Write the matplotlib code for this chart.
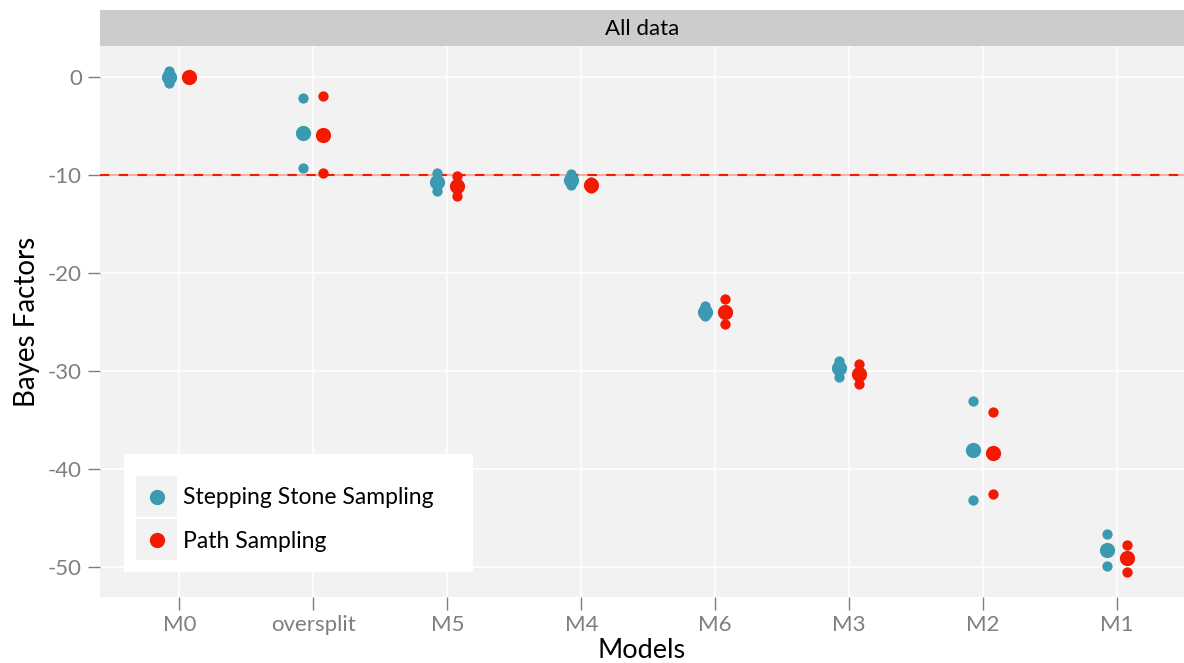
import matplotlib
matplotlib.use("Agg")
import matplotlib.pyplot as plt
from matplotlib.patches import Rectangle
import numpy as np

plt.rcParams['font.family'] = ['Lato', 'DejaVu Sans']

models = ['M0', 'oversplit', 'M5', 'M4', 'M6', 'M3', 'M2', 'M1']

# Stepping Stone Sampling: mean and the two replicate runs
ss_mean = [0.0, -5.75, -10.75, -10.5, -23.95, -29.7, -38.1, -48.3]
ss_rep_hi = [0.6, -2.1, -9.8, -9.9, -23.4, -29.0, -33.05, -46.6]
ss_rep_lo = [-0.6, -9.3, -11.6, -11.0, -24.4, -30.6, -43.2, -49.9]

# Path Sampling
ps_mean = [0.0, -5.9, -11.1, -11.0, -23.95, -30.3, -38.4, -49.1]
ps_rep_hi = [0.1, -1.95, -10.1, -10.7, -22.65, -29.3, -34.2, -47.8]
ps_rep_lo = [-0.1, -9.8, -12.1, -11.3, -25.2, -31.3, -42.6, -50.5]

threshold = -10
yticks = [0, -10, -20, -30, -40, -50]

blue = '#3B9AB2'
red = '#F21A00'
grey_txt = '#7F7F7F'

W, H = 1184, 663
fig = plt.figure(figsize=(W / 100, H / 100), dpi=100)

def fbox(x0, y0, x1, y1):
    # pixel box (top-left origin) -> figure fraction rect
    return [x0 / W, 1 - y1 / H, (x1 - x0) / W, (y1 - y0) / H]

ax = fig.add_axes(fbox(100, 46, 1184, 597))
strip = fig.add_axes(fbox(100, 10, 1184, 46))

ax.set_facecolor('#F2F2F2')
for s in ax.spines.values():
    s.set_visible(False)

x = np.arange(1, len(models) + 1)
dodge = 0.075

ax.axhline(threshold, color=red, lw=1.5, alpha=0.35, zorder=2)
ax.axhline(threshold, color=red, lw=1.5, ls=(0, (4.5, 4.5)), zorder=2)

ax.scatter(x - dodge, ss_rep_hi, s=55, color=blue, lw=0, zorder=3)
ax.scatter(x - dodge, ss_rep_lo, s=55, color=blue, lw=0, zorder=3)
ax.scatter(x - dodge, ss_mean, s=120, color=blue, lw=0, zorder=3)
ax.scatter(x + dodge, ps_rep_hi, s=55, color=red, lw=0, zorder=3)
ax.scatter(x + dodge, ps_rep_lo, s=55, color=red, lw=0, zorder=3)
ax.scatter(x + dodge, ps_mean, s=120, color=red, lw=0, zorder=3)

ax.set_xlim(0.407, 8.5)
ax.set_ylim(-53.06, 3.16)
ax.set_xticks(x)
ax.set_xticklabels(models)
ax.set_yticks(yticks)
ax.set_yticklabels([str(v) for v in yticks])
ax.grid(True, color='white', lw=1.2, zorder=0)
ax.set_axisbelow(True)
ax.tick_params(colors=grey_txt, labelcolor=grey_txt, labelsize=16, length=9, width=1, pad=4)

ax.set_xlabel('Models', fontsize=19.5, labelpad=2)
ax.set_ylabel('Bayes Factors', fontsize=20, labelpad=6)

strip.set_facecolor('#CCCCCC')
strip.set_xticks([])
strip.set_yticks([])
for s in strip.spines.values():
    s.set_visible(False)
strip.text(0.5, 0.48, 'All data', ha='center', va='center', fontsize=16, transform=strip.transAxes)

# legend drawn by hand (ggplot style with grey key boxes)
fig.patches.append(Rectangle((124 / W, 1 - 572 / H), 349 / W, 118 / H,
                             transform=fig.transFigure, facecolor='white', edgecolor='none', zorder=5))
labels = ['Stepping Stone Sampling', 'Path Sampling']
colors = [blue, red]
for i, (lab, c) in enumerate(zip(labels, colors)):
    top = 476 + i * 43
    fig.patches.append(Rectangle((136 / W, 1 - (top + 41) / H), 41 / W, 41 / H,
                                 transform=fig.transFigure, facecolor='#F2F2F2', edgecolor='none', zorder=6))
    fig.lines.append(plt.Line2D([156.5 / W], [1 - (top + 20.5) / H], marker='o', ms=11, color=c,
                                mec='none', transform=fig.transFigure, zorder=7))
    fig.text(183 / W, 1 - (top + 22) / H, lab, fontsize=16.5, va='center', ha='left', zorder=7)

fig.savefig('out.png', dpi=100)
